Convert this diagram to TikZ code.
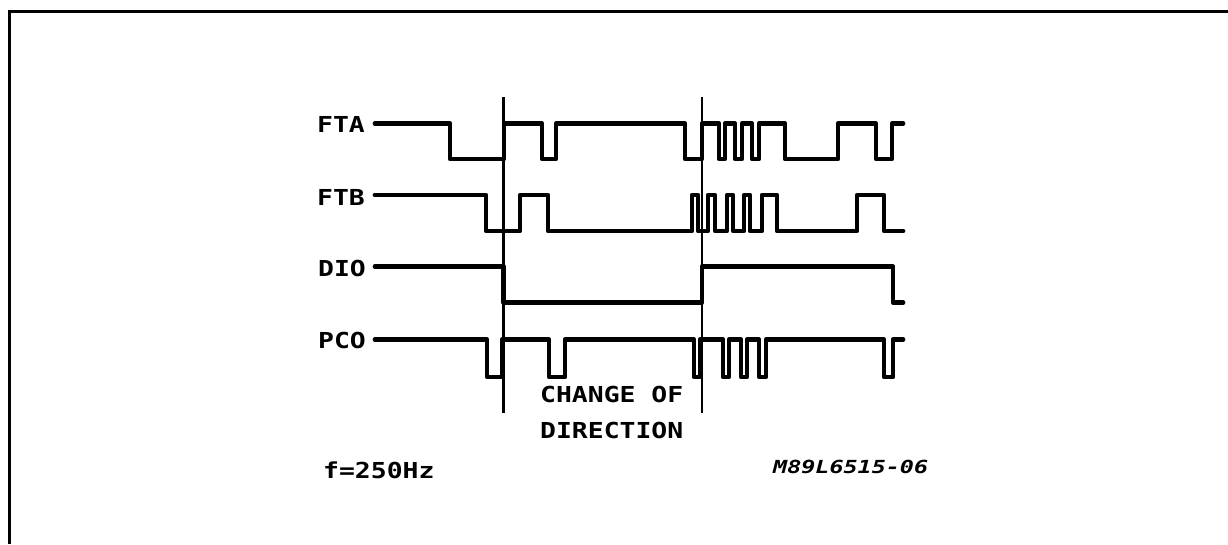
\documentclass[tikz,border=0pt]{standalone}
\usepackage{fontspec}
\newfontfamily\plotfont[FakeStretch=1.2]{DejaVu Sans Mono}
\newfontfamily\codefont[FakeStretch=1.3]{DejaVu Sans Mono}
\tikzset{
  wave/.style={line width=4.8pt, line cap=round, line join=round},
  cursor/.style={line width=2.8pt},
  frameline/.style={line width=3pt},
  lbl/.style={anchor=west, inner sep=0pt, font=\plotfont\bfseries\fontsize{22}{22}\selectfont},
  codelbl/.style={anchor=west, inner sep=0pt, font=\codefont\bfseries\itshape\fontsize{18}{18}\selectfont}
}
\begin{document}
\begin{tikzpicture}[x=1pt, y=-1pt]
\useasboundingbox (0,0) rectangle (1228,544);
\fill[white] (0,0) rectangle (1228,544);
% frame
\draw[frameline] (9.5,544) -- (9.5,11) -- (1228,11);
% labels
\node[lbl] (fta) at (317,124) {FTA};
\node[lbl] (ftb) at (317,197) {FTB};
\node[lbl] (dio) at (318,268.5) {DIO};
\node[lbl] (pco) at (318,340.5) {PCO};
\node[lbl] (chg) at (540,394) {CHANGE OF};
\node[lbl] (dir) at (540,430) {DIRECTION};
\node[lbl] (freq) at (323,470) {f=250Hz};
\node[codelbl] (code) at (773,466.5) {M89L6515-06};
% cursors
\draw[cursor] (503.5,97) -- (503.5,413);
\draw[cursor] (702,97) -- (702,413);
% FTA
\def\H{123.5}\def\L{159}
\draw[wave] (375,\H) -- (450,\H) -- (450,\L) -- (504,\L) -- (504,\H) -- (542,\H) -- (542,\L) -- (556,\L) -- (556,\H)
  -- (685,\H) -- (685,\L) -- (702,\L) -- (702,\H) -- (719,\H) -- (719,\L) -- (725,\L) -- (725,\H)
  -- (735,\H) -- (735,\L) -- (742,\L) -- (742,\H) -- (752,\H) -- (752,\L) -- (759,\L) -- (759,\H)
  -- (785,\H) -- (785,\L) -- (838,\L) -- (838,\H) -- (876,\H) -- (876,\L) -- (892,\L) -- (892,\H) -- (903,\H);
% FTB
\def\H{195}\def\L{231}
\draw[wave] (375,\H) -- (486,\H) -- (486,\L) -- (520,\L) -- (520,\H) -- (548,\H) -- (548,\L) -- (692,\L) -- (692,\H)
  -- (698,\H) -- (698,\L) -- (708,\L) -- (708,\H) -- (715,\H) -- (715,\L) -- (727,\L) -- (727,\H)
  -- (733,\H) -- (733,\L) -- (744,\L) -- (744,\H) -- (750,\H) -- (750,\L) -- (762,\L) -- (762,\H)
  -- (777,\H) -- (777,\L) -- (857,\L) -- (857,\H) -- (884,\H) -- (884,\L) -- (903,\L);
% DIO
\def\H{266.5}\def\L{302.5}
\draw[wave] (375,\H) -- (503.5,\H) -- (503.5,\L) -- (702,\L) -- (702,\H) -- (893,\H) -- (893,\L) -- (903,\L);
% PCO
\def\H{339.5}\def\L{377}
\draw[wave] (375,\H) -- (487,\H) -- (487,\L) -- (502,\L) -- (502,\H) -- (549,\H) -- (549,\L) -- (565,\L) -- (565,\H)
  -- (694,\H) -- (694,\L) -- (700,\L) -- (700,\H) -- (723,\H) -- (723,\L) -- (729,\L) -- (729,\H)
  -- (741,\H) -- (741,\L) -- (747,\L) -- (747,\H) -- (759,\H) -- (759,\L) -- (766,\L) -- (766,\H)
  -- (884,\H) -- (884,\L) -- (893,\L) -- (893,\H) -- (903,\H);
\end{tikzpicture}
\end{document}
